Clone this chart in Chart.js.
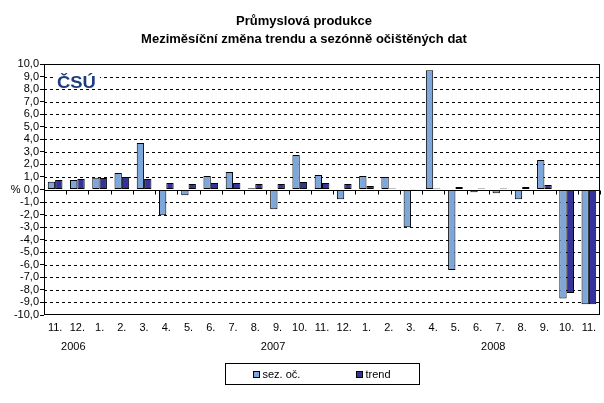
<!DOCTYPE html>
<html>
<head>
<meta charset="utf-8">
<script src="https://cdn.jsdelivr.net/npm/chart.js@4.4.0/dist/chart.umd.min.js"></script>
<style>
  html, body { margin: 0; padding: 0; background: #fff; }
  #wrap { width: 604px; height: 403px; }
</style>
</head>
<body>
<div id="wrap"><canvas id="chart"></canvas></div>
<script>
// data
const months = ['11.', '12.', '1.', '2.', '3.', '4.', '5.', '6.', '7.', '8.', '9.', '10.', '11.', '12.',
                '1.', '2.', '3.', '4.', '5.', '6.', '7.', '8.', '9.', '10.', '11.'];
const years = ['2006', '2007', '2008'];
const sezOc = [0.62, 0.75, 0.93, 1.31, 3.71, -2.05, -0.45, 1.07, 1.39, 0.10, -1.57, 2.75, 1.15, -0.77,
               1.07, 0.99, -3.00, 9.50, -6.42, -0.22, -0.29, -0.77, 2.35, -8.69, -9.14];
const trend = [0.75, 0.83, 0.91, 0.99, 0.83, 0.51, 0.43, 0.51, 0.51, 0.43, 0.43, 0.59, 0.51, 0.43,
               0.27, 0.08, 0.02, 0.08, 0.19, 0.08, 0.08, 0.19, 0.35, -8.24, -9.14];

const FONT = '"Liberation Sans", Arial, sans-serif';
const lightBlue = '#7DA7DB';
const navy = '#333399';

// where the year labels sit, in category units
const yearAnchor = [0.82, 9.8, 19.7];

const decor = {
  id: 'decor',
  beforeDatasetsDraw(chart) {
    const { ctx, chartArea: a, scales: { x, y } } = chart;
    ctx.save();
    ctx.strokeStyle = '#000';
    ctx.lineWidth = 1;

    // dashed grid
    ctx.setLineDash([3, 3]);
    y.ticks.forEach(t => {
      if (t.value === 0 || t.value === y.max || t.value === y.min) return;
      const py = Math.round(y.getPixelForValue(t.value)) + 0.5;
      ctx.beginPath();
      ctx.moveTo(a.left, py);
      ctx.lineTo(a.right, py);
      ctx.stroke();
    });
    ctx.setLineDash([]);

    // frame
    ctx.strokeRect(Math.round(a.left) + 0.5, Math.round(a.top) + 0.5,
                   Math.round(a.right - a.left) - 1, Math.round(a.bottom - a.top) - 1);

    // zero axis with category ticks
    const z = Math.round(y.getPixelForValue(0)) + 0.5;
    ctx.beginPath();
    ctx.moveTo(a.left, z);
    ctx.lineTo(a.right, z);
    for (let i = 0; i <= months.length; i++) {
      const px = Math.round(x.getPixelForValue(i - 0.5)) + 0.5;
      ctx.moveTo(px, z);
      ctx.lineTo(px, z + 4);
    }
    ctx.stroke();

    // logo
    ctx.fillStyle = '#fff';
    ctx.fillRect(a.left + 10, a.top + 6, 46, 19);
    ctx.fillStyle = '#1F3C80';
    ctx.font = 'bold 16px ' + FONT;
    ctx.textAlign = 'left';
    ctx.textBaseline = 'alphabetic';
    ctx.save();
    ctx.translate(a.left + 13, a.top + 23.5);
    ctx.scale(1.15, 1);
    ctx.fillText('ČSÚ', 0, 0);
    ctx.restore();

    ctx.restore();
  },
  afterDraw(chart) {
    const { ctx, scales: { x } } = chart;
    ctx.save();
    ctx.fillStyle = '#000';
    ctx.textAlign = 'center';
    ctx.textBaseline = 'middle';

    // title
    ctx.font = 'bold 13px ' + FONT;
    ctx.fillText('Průmyslová produkce', 304, 21);
    ctx.fillText('Meziměsíční změna trendu a sezónně očištěných dat', 304, 39);

    // years
    ctx.font = '11px ' + FONT;
    years.forEach((yr, i) => {
      ctx.fillText(yr, x.getPixelForValue(yearAnchor[i]), 347);
    });

    // legend
    const bx = 225.5, by = 363.5, bw = 194, bh = 21;
    ctx.strokeStyle = '#000';
    ctx.lineWidth = 1;
    ctx.strokeRect(bx, by, bw, bh);
    const offs = [27, 130];
    ctx.textAlign = 'left';
    chart.data.datasets.forEach((ds, i) => {
      const sx = Math.round(bx + offs[i]) + 0.5;
      ctx.fillStyle = ds.backgroundColor;
      ctx.fillRect(sx, 371.5, 6, 6);
      ctx.strokeRect(sx, 371.5, 6, 6);
      ctx.fillStyle = '#000';
      ctx.fillText(ds.label, sx + 9, 374.5);
    });
    ctx.restore();
  }
};

new Chart(document.getElementById('chart'), {
  type: 'bar',
  data: {
    labels: months,
    datasets: [
      { label: 'sez. oč.', data: sezOc, backgroundColor: lightBlue, borderColor: '#000', borderWidth: 1, borderSkipped: false },
      { label: 'trend', data: trend, backgroundColor: navy, borderColor: '#000', borderWidth: 1, borderSkipped: false }
    ]
  },
  options: {
    responsive: true,
    maintainAspectRatio: false,
    animation: false,
    datasets: { bar: { categoryPercentage: 0.66, barPercentage: 1.0 } },
    layout: { padding: { top: 64, right: 4, left: 0, bottom: 0 } },
    plugins: {
      legend: { display: false },
      title: { display: false },
      tooltip: { enabled: false }
    },
    scales: {
      x: {
        grid: { display: false, drawTicks: false },
        border: { display: false },
        ticks: { color: '#000', font: { family: FONT, size: 11 }, padding: 6, maxRotation: 0, autoSkip: false },
        afterFit(s) { s.height = 88; }
      },
      y: {
        min: -10,
        max: 10,
        grid: { drawOnChartArea: false, drawTicks: true, tickLength: 4, tickColor: '#000' },
        border: { display: false },
        ticks: {
          stepSize: 1,
          autoSkip: false,
          padding: 1,
          color: '#000',
          font: { family: FONT, size: 11 },
          callback: v => (v === 0 ? '% ' : '') + v.toFixed(1).replace('.', ',')
        },
        afterFit(s) { s.width = 44; }
      }
    }
  },
  plugins: [decor]
});
</script>
</body>
</html>
